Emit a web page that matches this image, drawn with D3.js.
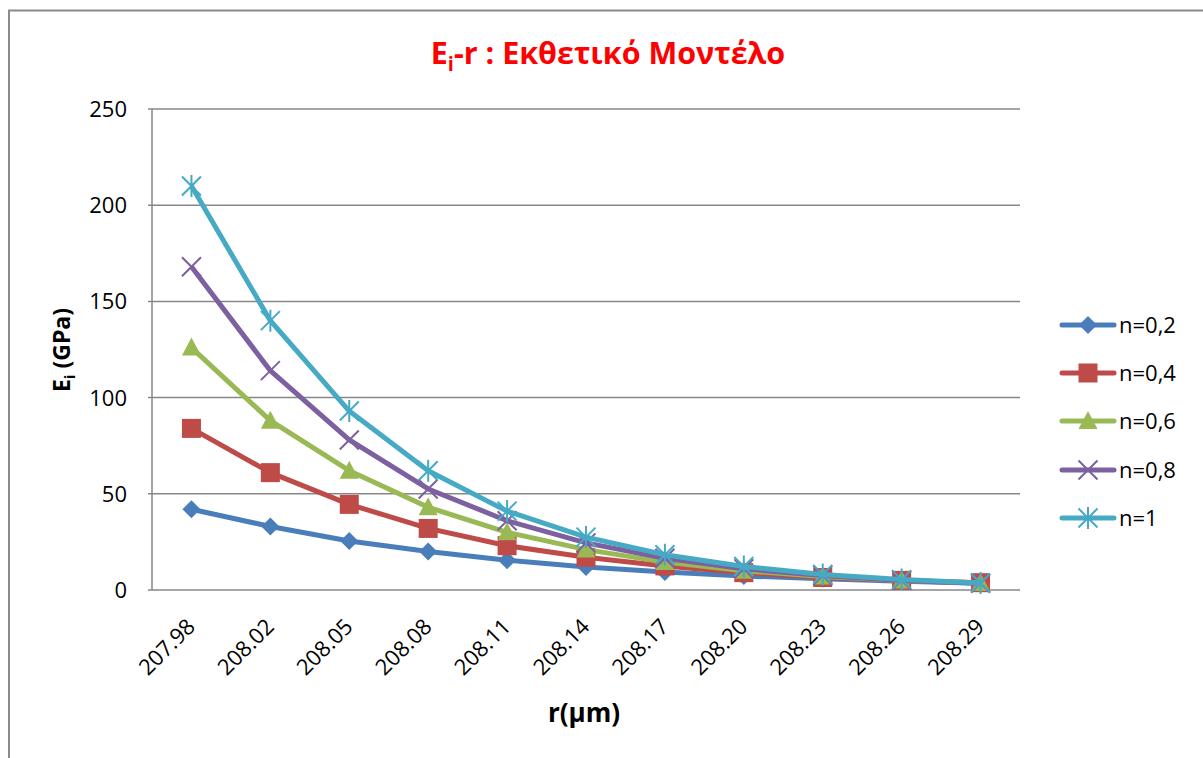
<!DOCTYPE html>
<html>
<head>
<meta charset="utf-8">
<script src="https://cdn.jsdelivr.net/npm/d3@7"></script>
<style>
  body { margin: 0; background: #fff; }
  svg { display: block; font-family: "Open Sans", "Noto Sans", sans-serif; }
</style>
</head>
<body>
<svg id="chart" width="1203" height="758"></svg>
<script>
// data
var categories = ["207.98","208.02","208.05","208.08","208.11","208.14","208.17","208.20","208.23","208.26","208.29"];
var seriesNames = ["n=0,2","n=0,4","n=0,6","n=0,8","n=1"];
var n02 = [42, 33, 25.5, 20, 15.5, 12, 9.3, 7.3, 5.8, 4.5, 3.5];
var n04 = [84, 61, 44.5, 32, 23, 17, 12.5, 9, 6.5, 5, 3.8];
var n06 = [126, 88, 62, 43, 30, 21, 14.5, 10, 7, 5, 3.6];
var n08 = [168, 114, 78, 52.5, 36, 24.5, 16.5, 11, 7.5, 5, 3.5];
var n1  = [210, 140, 93, 62, 41, 27.5, 18.3, 12.2, 8.1, 5.4, 3.6];
var yTicks = [0, 50, 100, 150, 200, 250];

var colors = ["#4A7EBB", "#BE4B48", "#98B954", "#7D60A0", "#46AAC5"];
var markers = ["diamond", "square", "triangle", "cross", "star"];
var allSeries = [n02, n04, n06, n08, n1];

var svg = d3.select("#chart");

// outer chart frame
svg.append("rect")
   .attr("x", 9).attr("y", 10.5)
   .attr("width", 1220).attr("height", 770)
   .attr("fill", "none")
   .attr("stroke", "#8a8a8a")
   .attr("stroke-width", 2);

var plot = {left: 152, right: 1020, top: 109, bottom: 590};

var x = d3.scaleBand()
          .domain(categories)
          .range([plot.left, plot.right]);

var y = d3.scaleLinear()
          .domain([0, 250])
          .range([plot.bottom, plot.top]);

// gridlines
svg.append("g")
   .selectAll("line")
   .data(yTicks)
   .join("line")
   .attr("x1", plot.left - 4)
   .attr("x2", plot.right)
   .attr("y1", d => y(d))
   .attr("y2", d => y(d))
   .attr("stroke", "#878787")
   .attr("stroke-width", 1.5);

// y axis line
svg.append("line")
   .attr("x1", plot.left).attr("x2", plot.left)
   .attr("y1", plot.top).attr("y2", plot.bottom)
   .attr("stroke", "#878787")
   .attr("stroke-width", 1.5);

// y tick labels
svg.append("g")
   .selectAll("text")
   .data(yTicks)
   .join("text")
   .attr("x", 127)
   .attr("y", d => y(d) + 8)
   .attr("text-anchor", "end")
   .attr("font-size", "22px")
   .attr("fill", "#000")
   .text(d => d);

// x tick labels, rotated
svg.append("g")
   .selectAll("text")
   .data(categories)
   .join("text")
   .attr("transform", d => "translate(" + (x(d) + x.bandwidth() / 2 + 5) + "," + (plot.bottom + 38) + ") rotate(-45)")
   .attr("text-anchor", "end")
   .attr("font-size", "22px")
   .attr("fill", "#000")
   .text(d => d);

// marker shapes
function drawMarker(g, type, color, cx, cy) {
  if (type == "diamond") {
    g.append("path")
     .attr("d", "M" + cx + "," + (cy - 9) + "L" + (cx + 9) + "," + cy + "L" + cx + "," + (cy + 9) + "L" + (cx - 9) + "," + cy + "Z")
     .attr("fill", color);
  }
  if (type == "square") {
    g.append("rect")
     .attr("x", cx - 9.5).attr("y", cy - 9.5)
     .attr("width", 19).attr("height", 19)
     .attr("fill", color);
  }
  if (type == "triangle") {
    g.append("path")
     .attr("d", "M" + cx + "," + (cy - 10) + "L" + (cx + 9.5) + "," + (cy + 8) + "L" + (cx - 9.5) + "," + (cy + 8) + "Z")
     .attr("fill", color);
  }
  if (type == "cross") {
    g.append("path")
     .attr("d", "M" + (cx - 9.5) + "," + (cy - 9.5) + "L" + (cx + 9.5) + "," + (cy + 9.5) + "M" + (cx + 9.5) + "," + (cy - 9.5) + "L" + (cx - 9.5) + "," + (cy + 9.5))
     .attr("stroke", color).attr("stroke-width", 2).attr("fill", "none");
  }
  if (type == "star") {
    g.append("path")
     .attr("d", "M" + (cx - 9.5) + "," + (cy - 9.5) + "L" + (cx + 9.5) + "," + (cy + 9.5) + "M" + (cx + 9.5) + "," + (cy - 9.5) + "L" + (cx - 9.5) + "," + (cy + 9.5) + "M" + cx + "," + (cy - 11) + "L" + cx + "," + (cy + 11))
     .attr("stroke", color).attr("stroke-width", 2).attr("fill", "none");
  }
}

var line = d3.line()
             .x((d, i) => x(categories[i]) + x.bandwidth() / 2)
             .y(d => y(d));

// series, drawn one after the other
allSeries.forEach(function(values, s) {
  var g = svg.append("g");
  g.append("path")
   .attr("d", line(values))
   .attr("fill", "none")
   .attr("stroke", colors[s])
   .attr("stroke-width", 5)
   .attr("stroke-linejoin", "round");
  values.forEach(function(v, i) {
    drawMarker(g, markers[s], colors[s], x(categories[i]) + x.bandwidth() / 2, y(v));
  });
});

// legend
var legendY = [325, 373, 421, 470, 518];
seriesNames.forEach(function(name, s) {
  var g = svg.append("g");
  g.append("line")
   .attr("x1", 1062).attr("x2", 1114)
   .attr("y1", legendY[s]).attr("y2", legendY[s])
   .attr("stroke", colors[s])
   .attr("stroke-width", 5)
   .attr("stroke-linecap", "round");
  drawMarker(g, markers[s], colors[s], 1088, legendY[s]);
  g.append("text")
   .attr("x", 1119)
   .attr("y", legendY[s] + 8)
   .attr("font-size", "22px")
   .attr("fill", "#000")
   .text(name);
});

// title
var title = svg.append("text")
   .attr("x", 608)
   .attr("y", 64)
   .attr("text-anchor", "middle")
   .attr("font-size", "30.5px")
   .attr("font-weight", "bold")
   .attr("fill", "#FF0000");
title.append("tspan").text("E");
title.append("tspan").attr("font-size", "20px").attr("dy", 7).text("i");
title.append("tspan").attr("dy", -7).text("-r : Εκθετικό Μοντέλο");

// y axis title
var ylab = svg.append("text")
   .attr("transform", "translate(70,350) rotate(-90)")
   .attr("text-anchor", "middle")
   .attr("font-size", "23px")
   .attr("font-weight", "bold")
   .attr("fill", "#000");
ylab.append("tspan").text("E");
ylab.append("tspan").attr("font-size", "15px").attr("dy", 5).text("i");
ylab.append("tspan").attr("dy", -5).text(" (GPa)");

// x axis title
svg.append("text")
   .attr("x", 584)
   .attr("y", 722)
   .attr("text-anchor", "middle")
   .attr("font-size", "26px")
   .attr("font-weight", "bold")
   .attr("fill", "#000")
   .text("r(μm)");
</script>
</body>
</html>
